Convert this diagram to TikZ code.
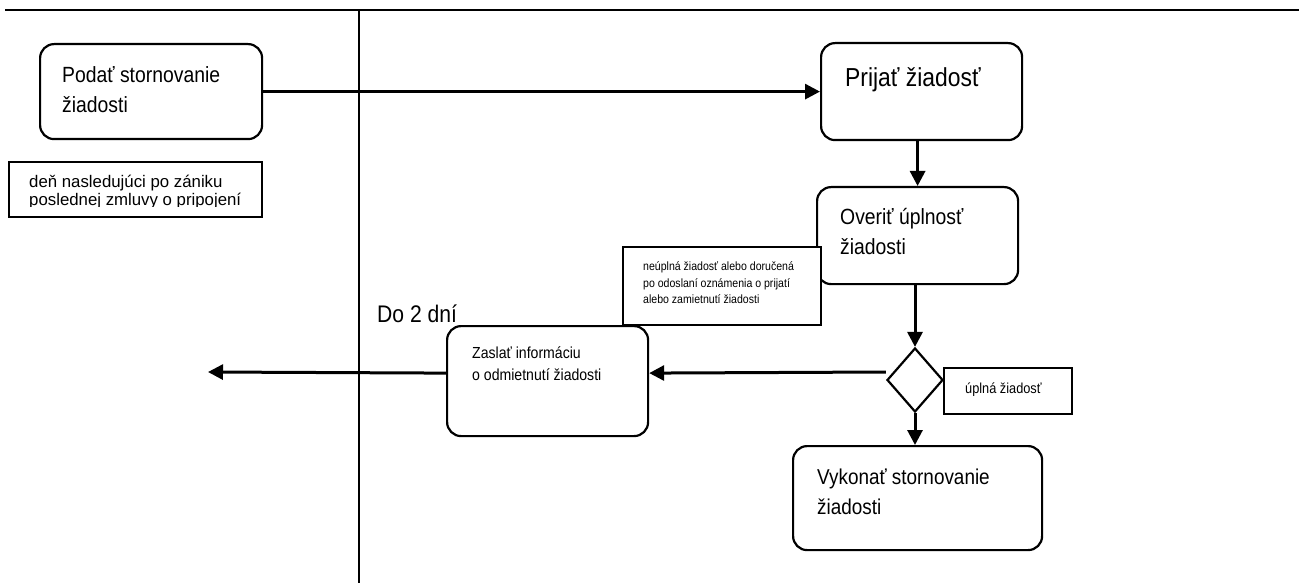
\documentclass[tikz,border=0pt]{standalone}
\usepackage{fontspec}
\setmainfont[FakeStretch=0.88]{Liberation Sans}
\newfontfamily\widefont{Liberation Sans}
\usetikzlibrary{arrows.meta,shapes.geometric}
\begin{document}
\begin{tikzpicture}[x=1pt,y=-1pt,
  rbox/.style={draw, line width=2.2pt, rounded corners=14pt, anchor=north west, inner sep=0pt},
  sbox/.style={draw, line width=1.6pt, anchor=north west, inner sep=0pt},
  arr/.style={line width=3pt, -{Triangle[length=15pt,width=15pt]}},
  lane/.style={line width=2pt},
  txt/.style={inner sep=0pt, align=left, anchor=west}]
\useasboundingbox (0,0) rectangle (1299,583);
% lane lines
\draw[lane] (5,10) -- (1299,10);
\draw[lane] (359,10) -- (359,583);

% left lane
\node[rbox, minimum width=222pt, minimum height=95pt] (podat) at (39,43) {};
\node[txt, font=\fontsize{22}{30}\selectfont] (podatT) at (62,90) {Podať stornovanie\\žiadosti};

\node[sbox, minimum width=253pt, minimum height=55pt] (den) at (8,161) {};
\begin{scope}
  \clip (8,161) rectangle (261,206);
  \node[txt, font=\widefont\fontsize{16.8}{18}\selectfont] (denT) at (29,192) {deň nasledujúci po zániku\\poslednej zmluvy o pripojení};
\end{scope}

% right lane
\node[rbox, minimum width=201pt, minimum height=97pt] (prijat) at (820,42) {};
\node[txt, font=\fontsize{26}{30}\selectfont] (prijatT) at (845,80) {Prijať žiadosť};

\node[rbox, minimum width=201pt, minimum height=97pt] (overit) at (816,186) {};
\node[txt, font=\fontsize{22}{30}\selectfont] (overitT) at (840,232) {Overiť úplnosť\\žiadosti};

\node[sbox, fill=white, minimum width=198pt, minimum height=78pt] (pozn) at (622,246) {};
\node[txt, font=\fontsize{12}{16.5}\selectfont] (poznT) at (643,283) {neúplná žiadosť alebo doručená\\po odoslaní oznámenia o prijatí\\alebo zamietnutí žiadosti};

\node[draw, diamond, line width=2.2pt, minimum width=56pt, minimum height=64pt, inner sep=0pt] (dec) at (915,380) {};

\node[sbox, minimum width=128pt, minimum height=46pt] (upl) at (943,367) {};
\node[txt, font=\fontsize{14.5}{15}\selectfont] (uplT) at (965,390) {úplná žiadosť};

\node[rbox, minimum width=201pt, minimum height=110pt] (zaslat) at (446,325) {};
\node[txt, font=\fontsize{16}{22}\selectfont] (zaslatT) at (472,364) {Zaslať informáciu\\o odmietnutí žiadosti};

\node[txt, font=\fontsize{24}{26}\selectfont] (do2) at (377,314) {Do 2 dní};

\node[rbox, minimum width=249pt, minimum height=104pt] (vyk) at (792,445) {};
\node[txt, font=\fontsize{21.5}{30}\selectfont] (vykT) at (817,492) {Vykonať stornovanie\\žiadosti};

\coordinate (out) at (208,372);

% connectors
\draw[arr] (podat.east) -- (prijat.west);
\draw[arr] (overit.north |- prijat.south) -- (overit.north);
\draw[arr] (dec.north |- overit.south) -- (dec.north);
\draw[arr] ([yshift=8pt]dec.west) -- ([yshift=8pt]zaslat.east);
\draw[arr] ([yshift=8pt]zaslat.west) -- (out);
\draw[arr] (dec.south) -- (dec.south |- vyk.north);
\end{tikzpicture}
\end{document}
